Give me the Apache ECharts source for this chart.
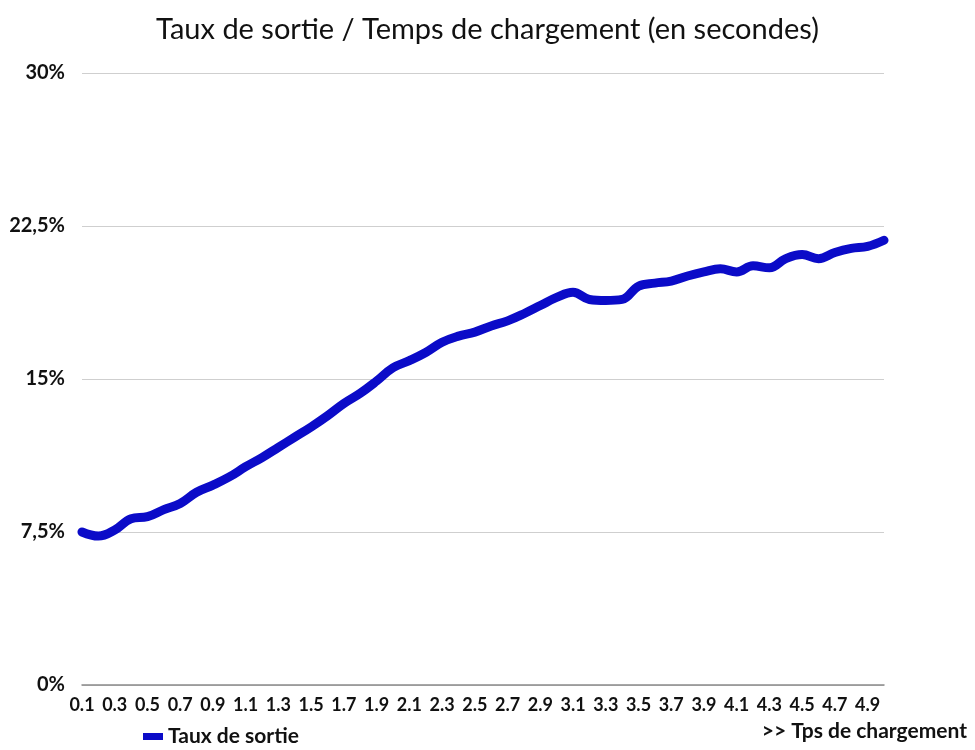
<!DOCTYPE html>
<html>
<head>
<meta charset="utf-8">
<script src="https://cdn.jsdelivr.net/npm/echarts@6/dist/echarts.min.js"></script>
<style>html,body{margin:0;padding:0;background:#fff}#c{width:975px;height:750px}</style>
</head>
<body>
<div id="c"></div>
<script>
const categories = ['0.1','0.2','0.3','0.4','0.5','0.6','0.7','0.8','0.9','1.0',
  '1.1','1.2','1.3','1.4','1.5','1.6','1.7','1.8','1.9','2.0',
  '2.1','2.2','2.3','2.4','2.5','2.6','2.7','2.8','2.9','3.0',
  '3.1','3.2','3.3','3.4','3.5','3.6','3.7','3.8','3.9','4.0',
  '4.1','4.2','4.3','4.4','4.5','4.6','4.7','4.8','4.9','5.0'];
const tauxDeSortie = [7.5,7.3,7.6,8.15,8.25,8.6,8.9,9.45,9.8,10.2,
  10.7,11.15,11.65,12.15,12.65,13.2,13.8,14.3,14.9,15.55,
  15.9,16.3,16.8,17.1,17.3,17.6,17.85,18.2,18.6,19.0,
  19.25,18.9,18.85,18.9,19.55,19.7,19.8,20.05,20.25,20.4,
  20.25,20.55,20.45,20.9,21.1,20.9,21.2,21.4,21.5,21.8];
const yTicks = {0:'0%',7.5:'7,5%',15:'15%',22.5:'22,5%',30:'30%'};
const seriesName = 'Taux de sortie';
const titleText = 'Taux de sortie / Temps de chargement (en secondes)';
const xAxisNote = '>> Tps de chargement';

const chart = echarts.init(document.getElementById('c'));
const font = 'Lato, "Open Sans", sans-serif';
chart.setOption({
  backgroundColor: '#fff',
  animation: false,
  title: {
    text: titleText, left: 'center', top: 10,
    textStyle: {fontFamily: font, fontSize: 29, fontWeight: 'normal', color: '#111'}
  },
  legend: {
    data: [seriesName], left: 138, top: 721, itemWidth: 20, itemHeight: 7,
    icon: 'rect', itemGap: 8,
    textStyle: {fontFamily: font, fontSize: 21, fontWeight: 'bold', color: '#111'}
  },
  grid: {left: 82, right: 91, top: 73, bottom: 65, containLabel: false},
  xAxis: {
    type: 'category', data: categories, boundaryGap: false,
    axisLine: {lineStyle: {color: '#8a8a8a', width: 1.5}},
    axisTick: {show: false},
    axisLabel: {interval: 1, margin: 11, fontFamily: font, fontSize: 18, fontWeight: 'bold', color: '#111'},
    splitLine: {show: false}
  },
  yAxis: {
    type: 'value', min: 0, max: 30, interval: 7.5,
    axisLine: {show: false}, axisTick: {show: false},
    axisLabel: {margin: 17, fontFamily: font, fontSize: 20, fontWeight: 'bold', color: '#111',
      formatter: v => yTicks[v] !== undefined ? yTicks[v] : ''},
    splitLine: {lineStyle: {color: '#cfcfcf', width: 1}}
  },
  graphic: [{
    type: 'text', right: 8, top: 721,
    style: {text: xAxisNote, font: 'bold 21px ' + font, fill: '#111'}
  }],
  series: [{
    name: seriesName, type: 'line', data: tauxDeSortie, smooth: 0.4,
    showSymbol: false, color: '#0b0bc8',
    lineStyle: {width: 9, color: '#0b0bc8', cap: 'round', join: 'round'}
  }]
});
</script>
</body>
</html>
